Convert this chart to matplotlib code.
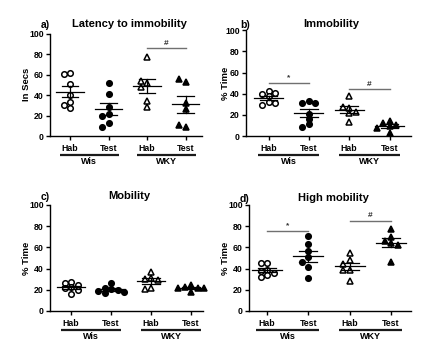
import numpy as np
import matplotlib
matplotlib.use("Agg")
import matplotlib.pyplot as plt
from matplotlib.transforms import blended_transform_factory, ScaledTranslation

plt.rcParams['font.family'] = ['Liberation Sans', 'DejaVu Sans']
plt.rcParams['font.weight'] = 'bold'

# ---------------- data ----------------
categories = ["Hab", "Test", "Hab", "Test"]
groups = ["Wis", "WKY"]

a_wis_hab = [61.5, 60.6, 50.8, 40.4, 33.2, 27.4, 30.0]
a_wis_test = [51.5, 41.0, 28.0, 21.5, 19.5, 13.0, 9.1]
a_wky_hab = [77.5, 51.5, 48.2, 54.1, 28.6, 34.2]
a_wky_test = [53.1, 55.4, 32.0, 26.4, 8.5, 10.5]

b_wis_hab = [42.9, 39.7, 38.1, 40.4, 31.9, 29.3, 31.5]
b_wis_test = [33.1, 31.2, 31.2, 20.8, 16.1, 11.2, 8.2]
b_wky_hab = [37.8, 26.2, 27.0, 23.0, 21.5, 13.6]
b_wky_test = [14.5, 12.0, 10.4, 9.5, 7.5, 3.1]

c_wis_hab = [27.7, 26.0, 24.5, 22.4, 21.4, 19.8, 16.0]
c_wis_test = [26.0, 22.0, 21.0, 20.0, 19.0, 18.0, 17.0]
c_wky_hab = [37.0, 31.0, 30.0, 29.0, 22.0, 21.0]
c_wky_test = [24.5, 23.0, 22.0, 22.0, 21.5, 18.2]

d_wis_hab = [45.0, 45.0, 38.7, 37.7, 35.6, 34.0, 32.4]
d_wis_test = [70.8, 63.0, 56.6, 51.0, 46.5, 41.8, 31.4]
d_wky_hab = [54.4, 48.1, 44.0, 38.7, 38.7, 28.6]
d_wky_test = [77.4, 69.5, 66.3, 64.5, 62.3, 46.5]

titles = ["Latency to immobility", "Immobility", "Mobility", "High mobility"]
letters = ["a)", "b)", "c)", "d)"]
ylabels = ["In Secs", "% Time", "% Time", "% Time"]
yticks = [0, 20, 40, 60, 80, 100]

# significance: (from index, to index, height, symbol)
a_sig = [(2, 3, 85.7, "#")]
b_sig = [(0, 1, 50.0, "*"), (2, 3, 44.2, "#")]
c_sig = []
d_sig = [(0, 1, 75.8, "*"), (2, 3, 84.9, "#")]

panels = [
    ([a_wis_hab, a_wis_test, a_wky_hab, a_wky_test], a_sig),
    ([b_wis_hab, b_wis_test, b_wky_hab, b_wky_test], b_sig),
    ([c_wis_hab, c_wis_test, c_wky_hab, c_wky_test], c_sig),
    ([d_wis_hab, d_wis_test, d_wky_hab, d_wky_test], d_sig),
]

# ---------------- layout (pixels) ----------------
W, H = 428, 348
DPI = 100
# left, right, top(y=100), bottom(y=0), first cat px, last cat px
geom = [
    (50, 202, 33.7, 136, 70, 185.5),
    (246, 411, 30.3, 136, 268.5, 389.5),
    (50, 203, 205, 311, 71, 191),
    (249, 411, 205, 311, 267, 391),
]
title_y = [24, 24, 196, 198]
letter_x = [41, 240, 41, 240]
ylabel_x = [27, 226, 27, 226]

markers = ['o', 'o', '^', '^']
fills = ['white', 'black', 'white', 'black']

fig = plt.figure(figsize=(W / DPI, H / DPI), dpi=DPI)


def swarm(vals, px_per_x, px_per_y, step_px=6.5, min_dist=4.8):
    placed = []
    offs = []
    cands = [0]
    for i in range(1, 6):
        cands += [-i, i]
    for v in vals:
        xo = 0.0
        for c in cands:
            xo = c * step_px
            if all(np.hypot(xo - px, (v - py) * px_per_y) >= min_dist for (px, py) in placed):
                break
        placed.append((xo, v))
        offs.append(xo / px_per_x)
    return np.array(offs)


for i, ((series, sig), g) in enumerate(zip(panels, geom)):
    left, right, top, bottom, p0, p3 = g
    ax = fig.add_axes([left / W, (H - bottom) / H, (right - left) / W, (bottom - top) / H])
    ppx = (p3 - p0) / 3.0
    ppy = (bottom - top) / 100.0
    xmin = (left - p0) / ppx
    xmax = (right - p0) / ppx
    ax.set_xlim(xmin, xmax)
    ax.set_ylim(0, 100)

    for j, vals in enumerate(series):
        vals = np.asarray(vals)
        offs = swarm(vals, ppx, ppy)
        ax.plot(j + offs, vals, linestyle='none', marker=markers[j],
                markersize=4.4 if markers[j] == '^' else 4.0,
                markerfacecolor=fills[j], markeredgecolor='black',
                markeredgewidth=1.1, clip_on=False, zorder=3)
        m = vals.mean()
        sem = vals.std(ddof=1) / np.sqrt(len(vals))
        ax.plot([j - 0.36, j + 0.36], [m, m], color='black', lw=0.9, zorder=4)
        ax.plot([j, j], [m - sem, m + sem], color='black', lw=0.9, zorder=4)
        for yy in (m - sem, m + sem):
            ax.plot([j - 0.22, j + 0.22], [yy, yy], color='black', lw=0.9, zorder=4)

    for (a0, a1, hgt, sym) in sig:
        ax.plot([a0, a1], [hgt, hgt], color='#707070', lw=1.0, clip_on=False)
        ax.text((a0 + a1) / 2, hgt + 1.5, sym, ha='center', va='bottom',
                fontsize=6, fontweight='bold', color='#333333')

    ax.spines['top'].set_visible(False)
    ax.spines['right'].set_visible(False)
    for s in ('left', 'bottom'):
        ax.spines[s].set_linewidth(1.0)
    ax.set_yticks(yticks)
    ax.set_xticks(range(4))
    ax.set_xticklabels(categories)
    ax.tick_params(axis='both', length=3, width=1.0, labelsize=6.3, pad=1.5)
    ax.tick_params(axis='x', pad=2.5)
    for lab in ax.get_xticklabels() + ax.get_yticklabels():
        lab.set_fontweight('bold')

    # group underlines and labels
    trans_line = blended_transform_factory(ax.transData, ax.transAxes) + \
        ScaledTranslation(0, -18.5 / DPI, fig.dpi_scale_trans)
    trans_lab = blended_transform_factory(ax.transData, ax.transAxes) + \
        ScaledTranslation(0, -25.5 / DPI, fig.dpi_scale_trans)
    for k, gname in enumerate(groups):
        c = 0.5 + 2 * k
        ax.plot([c - 0.76, c + 0.76], [0, 0], transform=trans_line, color='#1a1a1a',
                lw=1.6, clip_on=False, solid_capstyle='butt')
        ax.text(c, 0, gname, transform=trans_lab, ha='center', va='center',
                fontsize=6.5, fontweight='bold')

    fig.text(ylabel_x[i] / W, 1 - ((top + bottom) / 2) / H, ylabels[i], rotation=90,
             ha='center', va='center', fontsize=6.8, fontweight='bold')
    fig.text(((left + right) / 2 + 3) / W, 1 - title_y[i] / H, titles[i], ha='center',
             va='center', fontsize=8, fontweight='bold')
    fig.text(letter_x[i] / W, 1 - (title_y[i] + 0.5) / H, letters[i], ha='left',
             va='center', fontsize=7.5, fontweight='bold')

fig.savefig("out.png", dpi=DPI)
